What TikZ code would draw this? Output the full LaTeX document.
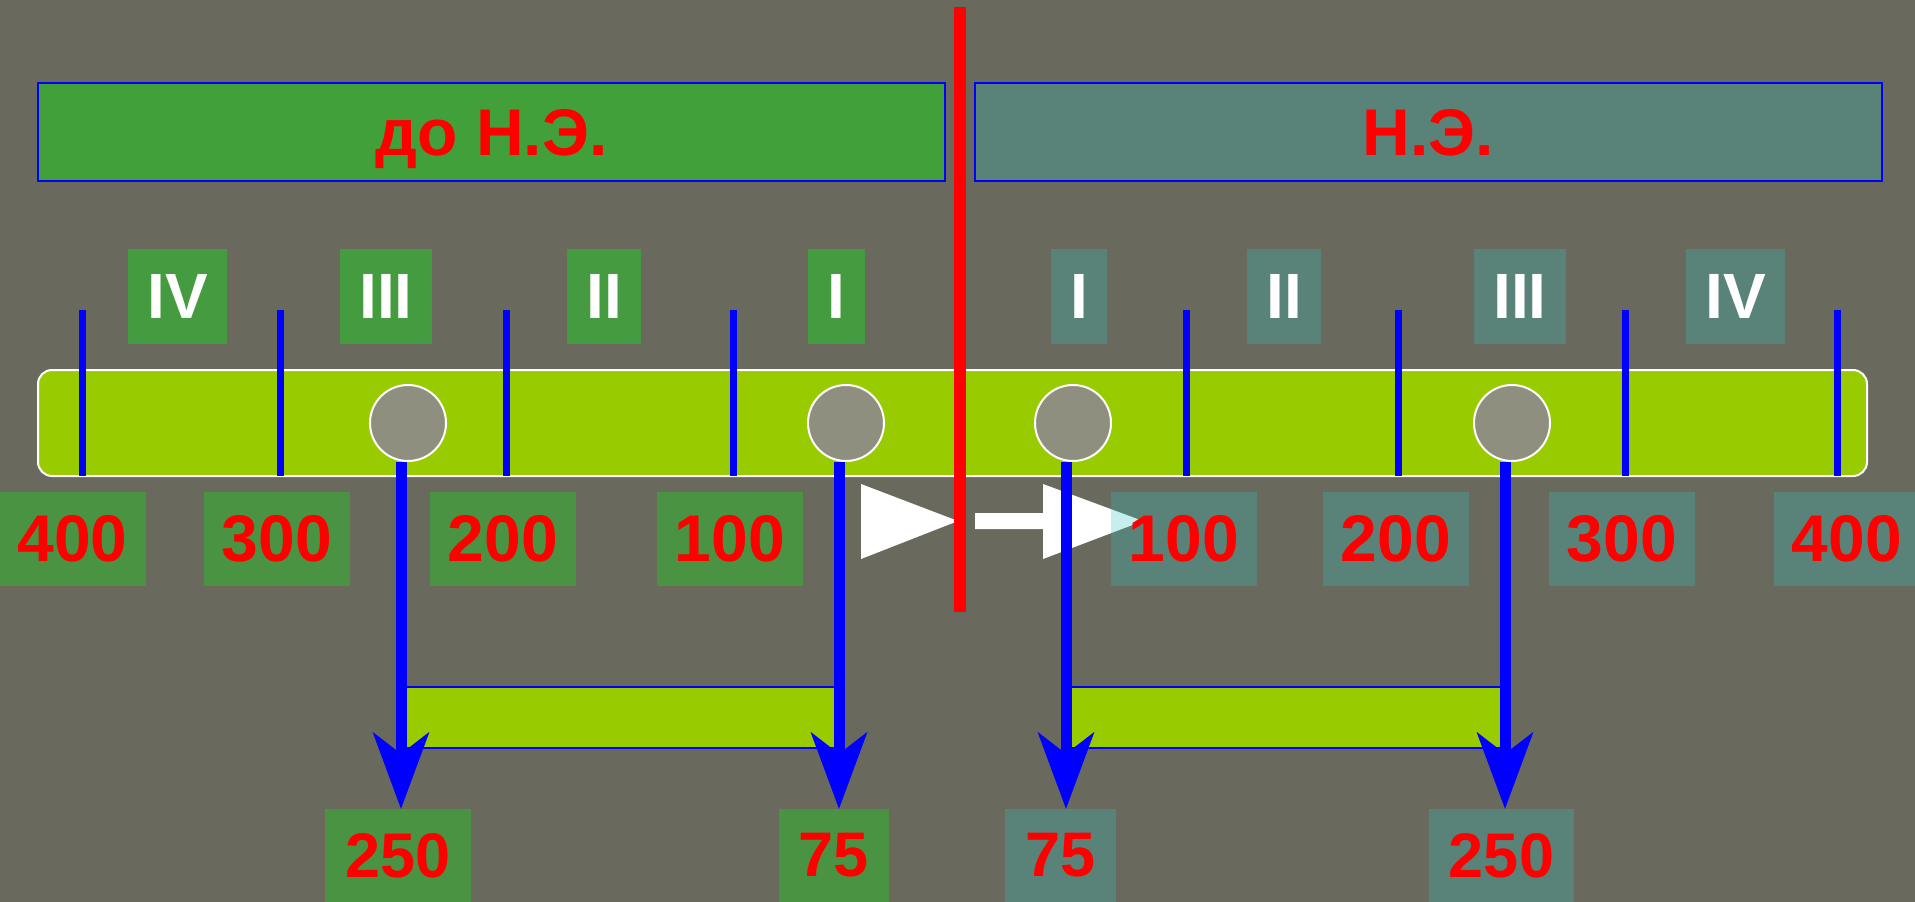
\documentclass[tikz,border=0pt]{standalone}
\usepackage{fontspec}
\setmainfont{Liberation Sans}
\usetikzlibrary{arrows.meta}
\definecolor{bg}{RGB}{105,106,93}
\definecolor{topgreen}{RGB}{65,160,58}
\definecolor{romgreen}{RGB}{68,155,64}
\definecolor{numgreen}{RGB}{74,147,66}
\definecolor{tealc}{RGB}{51,196,196}
\definecolor{lime}{RGB}{153,204,0}
\definecolor{circ}{RGB}{143,143,128}
\definecolor{bblue}{RGB}{0,0,255}
\definecolor{rred}{RGB}{255,0,0}
\tikzset{
  tealfill/.style={fill=tealc, fill opacity=0.28, text opacity=1},
  titlebox/.style={draw=bblue, line width=2pt, minimum height=98pt, inner sep=0pt,
    text depth=0pt, text=rred, font=\fontsize{66}{70}\selectfont\bfseries},
  romanbox/.style={minimum height=95pt, inner sep=0pt, text=white,
    font=\fontsize{64}{68}\selectfont\bfseries},
  numbox/.style={minimum height=94pt, minimum width=146pt, inner sep=0pt, text=rred,
    font=\fontsize{66}{70}\selectfont\bfseries},
  botbox/.style={minimum height=93pt, inner sep=0pt, text=rred,
    font=\fontsize{63}{66}\selectfont\bfseries},
  barstyle/.style={draw=white, line width=2pt, fill=lime, rounded corners=14pt,
    minimum width=1829pt, minimum height=106pt, inner sep=0pt},
  tick/.style={draw=bblue, line width=7pt},
  dot/.style={circle, draw=white, line width=2pt, fill=circ, minimum size=76pt, inner sep=0pt},
  spanbox/.style={draw=bblue, line width=2pt, fill=lime},
  barrow/.style={draw=bblue, line width=11pt,
    -{Stealth[length=77pt, width=57pt, inset=22pt, line width=0pt]}},
  redline/.style={draw=rred, line width=12pt}
}
\begin{document}
\begin{tikzpicture}[x=1pt,y=-1pt]
\useasboundingbox (0,0) rectangle (1915,902);
\fill[bg] (0,0) rectangle (1915,902);

% title boxes
\node[titlebox, fill=topgreen, minimum width=907pt] (bc) at (491.5,132) {до Н.Э.};
\node[titlebox, tealfill, minimum width=907pt] (ad) at (1428.5,132) {Н.Э.};

% roman numeral boxes
\node[romanbox, fill=romgreen, minimum width=99pt] (rL4) at (177.5,296.5) {IV};
\node[romanbox, fill=romgreen, minimum width=92pt] (rL3) at (386,296.5) {III};
\node[romanbox, fill=romgreen, minimum width=74pt] (rL2) at (604,296.5) {II};
\node[romanbox, fill=romgreen, minimum width=57pt] (rL1) at (836.5,296.5) {I};
\node[romanbox, tealfill, minimum width=56pt] (rR1) at (1079,296.5) {I};
\node[romanbox, tealfill, minimum width=74pt] (rR2) at (1284,296.5) {II};
\node[romanbox, tealfill, minimum width=92pt] (rR3) at (1520,296.5) {III};
\node[romanbox, tealfill, minimum width=99pt] (rR4) at (1735.5,296.5) {IV};

% time bar
\node[barstyle] (bar) at (952.5,423) {};

% ticks
\foreach \x in {82,280,506,733,1186,1398,1625,1837}
  \draw[tick] (\x,310) -- (\x,476);

% circles
\node[dot] (c1) at (408,423) {};
\node[dot] (c2) at (846,423) {};
\node[dot] (c3) at (1073,423) {};
\node[dot] (c4) at (1512,423) {};

% white arrows
\fill[white] (861,484) -- (958,521) -- (861,559) -- cycle;
\fill[white] (975,513) -- (1043,513) -- (1043,484) -- (1143,521) -- (1043,559)
  -- (1043,529) -- (975,529) -- cycle;

% number boxes
\node[numbox, fill=numgreen] (nL4) at (72.5,539) {400};
\node[numbox, fill=numgreen] (nL3) at (277,539) {300};
\node[numbox, fill=numgreen] (nL2) at (503,539) {200};
\node[numbox, fill=numgreen] (nL1) at (730,539) {100};
\node[numbox, tealfill] (nR1) at (1184,539) {100};
\node[numbox, tealfill] (nR2) at (1396,539) {200};
\node[numbox, tealfill] (nR3) at (1622,539) {300};
\node[numbox, tealfill] (nR4) at (1847,539) {400};

% span rectangles
\draw[spanbox] (401,687) rectangle (839,748);
\draw[spanbox] (1066,687) rectangle (1505,748);

% bottom boxes
\node[botbox, fill=numgreen, minimum width=146pt] (bL250) at (398,855.5) {250};
\node[botbox, fill=numgreen, minimum width=110pt] (bL75) at (834,855.5) {75};
\node[botbox, tealfill, minimum width=111pt] (bR75) at (1060.5,855.5) {75};
\node[botbox, tealfill, minimum width=145pt] (bR250) at (1501.5,855.5) {250};

% blue arrows
\draw[barrow] ([xshift=-7pt]c1.south) -- ([xshift=-7pt]c1.south |- bL250.north);
\draw[barrow] ([xshift=-7pt]c2.south) -- ([xshift=-7pt]c2.south |- bL75.north);
\draw[barrow] ([xshift=-7pt]c3.south) -- ([xshift=-7pt]c3.south |- bR75.north);
\draw[barrow] ([xshift=-7pt]c4.south) -- ([xshift=-7pt]c4.south |- bR250.north);

% era divider
\coordinate (rtop) at (960,7);
\coordinate (rbot) at (960,612);
\draw[redline] (rtop) -- (rbot);
\end{tikzpicture}
\end{document}
